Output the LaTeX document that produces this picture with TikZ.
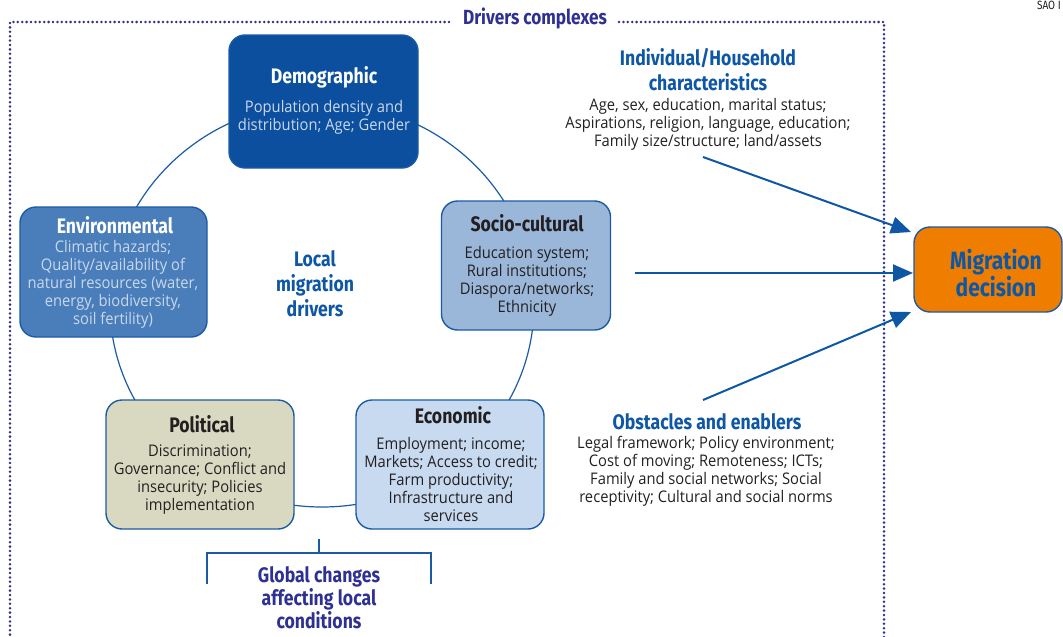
\documentclass[tikz,border=0pt]{standalone}
\usepackage{fontspec}
\setmainfont{Open Sans}
\newfontfamily\headfont{Fira Sans}[FakeStretch=0.84]
\newfontfamily\bodyfont{Open Sans}[FakeStretch=0.92]
\usetikzlibrary{arrows.meta}
\definecolor{navy}{HTML}{2E3192}
\definecolor{mblue}{HTML}{0E57A5}
\definecolor{bord}{HTML}{1B5BA5}
\definecolor{demofill}{HTML}{0B4F9E}
\definecolor{envfill}{HTML}{4A7EBB}
\definecolor{socfill}{HTML}{9AB7D9}
\definecolor{polfill}{HTML}{D9D9C2}
\definecolor{ecofill}{HTML}{C8DAF0}
\definecolor{orangefill}{HTML}{EF7D00}
\definecolor{lighttext}{HTML}{C9D8EC}
\definecolor{darktext}{HTML}{231F20}
\tikzset{
  boxshape/.style={draw=bord, line width=1.4pt, rounded corners=16pt, inner sep=0pt},
  titletext/.style={font=\headfont\bfseries\fontsize{21}{25}\selectfont, inner sep=0pt, align=center},
  bodytext/.style={font=\bodyfont\fontsize{16}{18}\selectfont, inner sep=0pt, align=center},
  ring/.style={draw=bord, line width=1.2pt},
  flow/.style={draw=mblue, line width=2pt, -{Triangle[length=20pt,width=17pt]}},
  dotframe/.style={draw=navy, line width=2.8pt, line cap=round, dash pattern=on 0pt off 4.4pt},
  bracketline/.style={draw=bord, line width=1.3pt}
}
\begin{document}
\begin{tikzpicture}[x=1pt,y=-1pt]
\useasboundingbox (0,0) rectangle (1063,637);
% page header fragment
\node[anchor=north east, inner sep=0pt, font=\headfont\fontsize{12}{12}\selectfont, text=darktext] (hdr) at (1061,1) {SAO I};
% dotted frame
\coordinate (fl) at (449,22);
\coordinate (fr) at (619,22);
\draw[dotframe] (fl) -- (10,22) -- (10,645);
\draw[dotframe] (fr) -- (884,22) -- (884,645);
\node[titletext, text=navy, font=\headfont\bfseries\fontsize{20.5}{24}\selectfont] (dc) at (535,18) {Drivers complexes};
% ring
\draw[ring] (322,305) ellipse [x radius=212pt, y radius=202pt];
% boxes
\node[boxshape, fill=demofill, minimum width=189pt, minimum height=133pt] (demo) at (323.5,101.5) {};
\node[titletext, text=white] (demoT) at (324,77) {Demographic};
\node[bodytext, text=lighttext] (demoB) at (324,117) {Population density and\\distribution; Age; Gender};

\node[boxshape, fill=envfill, minimum width=187pt, minimum height=130pt] (env) at (113.5,272) {};
\node[titletext, text=white] (envT) at (115,225) {Environmental};
\node[bodytext, text=lighttext] (envB) at (113,284) {Climatic hazards;\\Quality/availability of\\natural resources (water,\\energy, biodiversity,\\soil fertility)};

\node[boxshape, fill=socfill, minimum width=169pt, minimum height=129pt] (soc) at (526,265.5) {};
\node[titletext, text=darktext] (socT) at (527,223) {Socio-cultural};
\node[bodytext, text=darktext] (socB) at (527,281) {Education system;\\Rural institutions;\\Diaspora/networks;\\Ethnicity};

\node[boxshape, fill=polfill, minimum width=188pt, minimum height=129pt] (pol) at (200,464.5) {};
\node[titletext, text=darktext] (polT) at (202,424) {Political};
\node[bodytext, text=darktext] (polB) at (200,480) {Discrimination;\\Governance; Conflict and\\insecurity; Policies\\implementation};

\node[boxshape, fill=ecofill, minimum width=188pt, minimum height=129pt] (eco) at (450,464.5) {};
\node[titletext, text=darktext] (ecoT) at (453,415) {Economic};
\node[bodytext, text=darktext] (ecoB) at (451,479) {Employment; income;\\Markets; Access to credit;\\Farm productivity;\\Infrastructure and\\services};

\node[titletext, text=mblue] (local) at (315,284) {Local\\migration\\drivers};

% migration decision
\node[boxshape, fill=orangefill, minimum width=148pt, minimum height=85pt] (mig) at (988,269.5) {};
\node[titletext, text=mblue, font=\headfont\bfseries\fontsize{25}{23}\selectfont] (migT) at (996,273) {Migration\\decision};

% individual/household
\node[titletext, text=mblue] (indT) at (708,70) {Individual/Household\\characteristics};
\node[bodytext, text=darktext] (indB) at (708,124) {Age, sex, education, marital status;\\Aspirations, religion, language, education;\\Family size/structure; land/assets};

% obstacles and enablers
\node[titletext, text=mblue] (obsT) at (707,422) {Obstacles and enablers};
\node[bodytext, text=darktext] (obsB) at (706,471) {Legal framework; Policy environment;\\Cost of moving; Remoteness; ICTs;\\Family and social networks; Social\\receptivity; Cultural and social norms};

% arrows
\coordinate (a1s) at (703,157);
\coordinate (a1e) at (911,232);
\coordinate (a2s) at (635,273);
\coordinate (a2e) at (913,273);
\coordinate (a3s) at (703,400);
\coordinate (a3e) at (911,312);
\draw[flow] (a1s) -- (a1e);
\draw[flow] (a2s) -- (a2e);
\draw[flow] (a3s) -- (a3e);

% global changes bracket
\coordinate (bt) at (319,539);
\coordinate (bm) at (319,553);
\coordinate (bl) at (207,553);
\coordinate (br) at (431,553);
\draw[bracketline] (bt) -- (bm);
\draw[bracketline] (207,584) -- (bl) -- (br) -- (431,584);
\node[titletext, text=navy, font=\headfont\bfseries\fontsize{21}{23}\selectfont] (glob) at (319,598) {Global changes\\affecting local\\conditions};
\end{tikzpicture}
\end{document}
